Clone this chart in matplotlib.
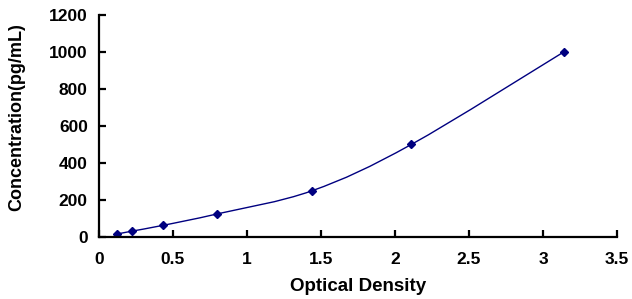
import numpy as np
import matplotlib
matplotlib.use('Agg')
import matplotlib.pyplot as plt
from matplotlib.path import Path
from matplotlib.patches import PathPatch

# standard curve data
od = [0.12, 0.22, 0.43, 0.80, 1.44, 2.11, 3.14]
conc = [15.6, 31.2, 62.5, 125, 250, 500, 1000]

xticks = [0, 0.5, 1, 1.5, 2, 2.5, 3, 3.5]
xticklabels = ['0', '0.5', '1', '1.5', '2', '2.5', '3', '3.5']
yticks = [0, 200, 400, 600, 800, 1000, 1200]

plt.rcParams['font.family'] = ['Liberation Sans', 'DejaVu Sans']
plt.rcParams['font.weight'] = 'bold'

navy = '#000080'


def smooth_path(x, y):
    # catmull-rom style smoothed line through the points (bezier segments)
    pts = np.column_stack([x, y]).astype(float)
    ext = np.vstack([pts[0], pts, pts[-1]])
    verts = [pts[0]]
    codes = [Path.MOVETO]
    for i in range(1, len(ext) - 2):
        p0, p1, p2, p3 = ext[i - 1], ext[i], ext[i + 1], ext[i + 2]
        verts += [p1 + (p2 - p0) / 6, p2 - (p3 - p1) / 6, p2]
        codes += [Path.CURVE4] * 3
    return Path(verts, codes)


fig = plt.figure(figsize=(6.32, 2.99), dpi=100)
ax = fig.add_axes([0.1566, 0.2074, 0.8196, 0.7424])

ax.add_patch(PathPatch(smooth_path(od, conc), facecolor='none', edgecolor=navy, lw=1.0))
ax.plot(od, conc, linestyle='none', marker='D', markersize=4.5, color=navy)

ax.set_xlim(0, 3.5)
ax.set_ylim(0, 1200)
ax.set_xticks(xticks)
ax.set_xticklabels(xticklabels)
ax.set_yticks(yticks)

for s in ['top', 'right']:
    ax.spines[s].set_visible(False)
for s in ['left', 'bottom']:
    ax.spines[s].set_linewidth(1.6)
ax.tick_params(direction='in', length=5, width=1.6, labelsize=12.5)
ax.tick_params(axis='y', pad=8)
ax.tick_params(axis='x', pad=11)
for lab in ax.get_xticklabels() + ax.get_yticklabels():
    lab.set_fontweight('bold')

ax.set_xlabel('Optical Density', fontsize=13.5, fontweight='bold', labelpad=8)
ax.set_ylabel('Concentration(pg/mL)', fontsize=13, fontweight='bold')
ax.yaxis.set_label_coords(-0.143, 0.54)

fig.savefig('out.png', dpi=100)
